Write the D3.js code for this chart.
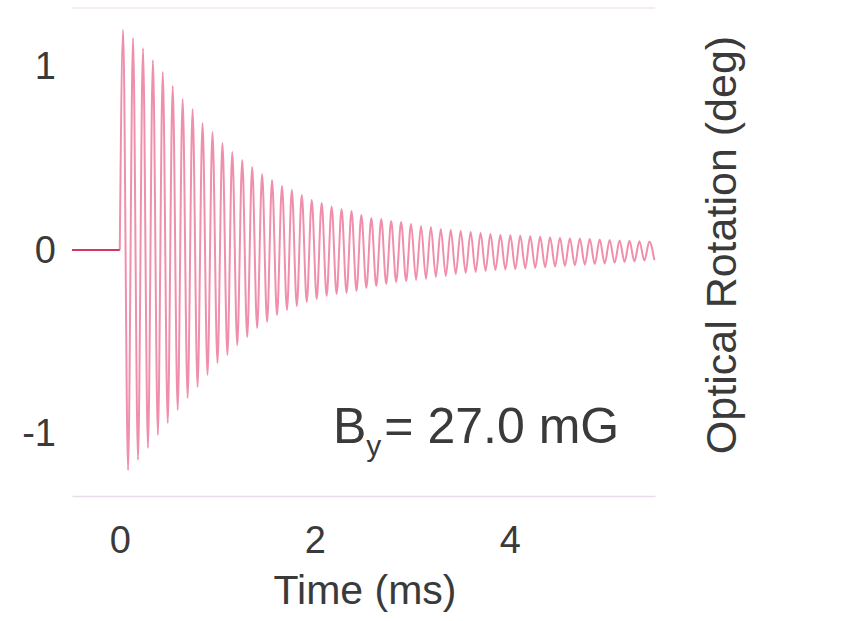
<!DOCTYPE html>
<html>
<head>
<meta charset="utf-8">
<script src="https://cdn.jsdelivr.net/npm/d3@7"></script>
<style>
  html, body { margin: 0; padding: 0; background: #ffffff; }
  svg { display: block; }
  text { font-family: "Liberation Sans", Arial, Helvetica, sans-serif; fill: #3a3a3a; }
</style>
</head>
<body>
<svg id="chart" width="857" height="621"></svg>
<script>
// Axis ticks
const xTicks = [0, 2, 4];
const yTicks = [-1, 0, 1];

// Flat signal before the pulse (ms, deg)
const baselineTime = [-0.49, 0];
const baselineValue = [0, 0];

// Maxima of the free-precession signal (ms, deg)
const peakTime = [0.034, 0.136, 0.238, 0.340, 0.441, 0.543, 0.645, 0.747, 0.849, 0.951,
  1.053, 1.154, 1.256, 1.358, 1.460, 1.562, 1.664, 1.765, 1.867, 1.969,
  2.071, 2.173, 2.275, 2.377, 2.478, 2.580, 2.682, 2.784, 2.886, 2.988,
  3.090, 3.191, 3.293, 3.395, 3.497, 3.599, 3.701, 3.802, 3.904, 4.006,
  4.108, 4.210, 4.312, 4.414, 4.515, 4.617, 4.719, 4.821, 4.923, 5.025,
  5.127, 5.228, 5.330, 5.432];
const peakValue = [1.20, 1.155, 1.10, 1.035, 0.97, 0.894, 0.823, 0.768, 0.692, 0.643,
  0.583, 0.534, 0.49, 0.452, 0.414, 0.381, 0.349, 0.327, 0.30, 0.272,
  0.256, 0.237, 0.223, 0.213, 0.191, 0.174, 0.169, 0.158, 0.153, 0.142,
  0.131, 0.125, 0.114, 0.109, 0.104, 0.098, 0.093, 0.087, 0.082, 0.080,
  0.078, 0.075, 0.072, 0.070, 0.067, 0.064, 0.062, 0.060, 0.057, 0.055,
  0.052, 0.050, 0.048, 0.046];

// Minima of the free-precession signal (ms, deg)
const troughTime = [0.085, 0.187, 0.289, 0.391, 0.492, 0.594, 0.696, 0.798, 0.900, 1.002,
  1.104, 1.205, 1.307, 1.409, 1.511, 1.613, 1.715, 1.816, 1.918, 2.020,
  2.122, 2.224, 2.326, 2.428, 2.529, 2.631, 2.733, 2.835, 2.937, 3.039,
  3.141, 3.242, 3.344, 3.446, 3.548, 3.650, 3.752, 3.853, 3.955, 4.057,
  4.159, 4.261, 4.363, 4.465, 4.566, 4.668, 4.770, 4.872, 4.974, 5.076,
  5.178, 5.279, 5.381, 5.483];
const troughValue = [-1.20, -1.144, -1.079, -1.008, -0.943, -0.872, -0.807, -0.747, -0.681, -0.616,
  -0.572, -0.518, -0.474, -0.425, -0.392, -0.354, -0.327, -0.305, -0.283, -0.267,
  -0.250, -0.240, -0.234, -0.223, -0.207, -0.196, -0.185, -0.174, -0.169, -0.163,
  -0.158, -0.147, -0.142, -0.131, -0.125, -0.120, -0.114, -0.109, -0.106, -0.104,
  -0.100, -0.097, -0.094, -0.090, -0.087, -0.084, -0.080, -0.077, -0.074, -0.070,
  -0.066, -0.062, -0.058, -0.055];

const svg = d3.select("#chart");

const x = d3.scaleLinear().domain([-0.49, 5.49]).range([72, 655]);
const y = d3.scaleLinear().domain([-1.341, 1.319]).range([496, 8]);

// Soft edge for the densely packed trace
const defs = svg.append("defs");
defs.append("filter").attr("id", "soft")
  .attr("x", "-5%").attr("y", "-5%").attr("width", "110%").attr("height", "110%")
  .append("feGaussianBlur").attr("stdDeviation", 0.6);

// Frame lines above and below the plot
svg.append("line")
  .attr("x1", x.range()[0]).attr("x2", x.range()[1])
  .attr("y1", y.range()[1]).attr("y2", y.range()[1])
  .attr("stroke", "#f1e4f1").attr("stroke-width", 1.5);

const xAxis = svg.append("g")
  .attr("transform", `translate(0,${y.range()[0]})`)
  .call(d3.axisBottom(x).tickValues(xTicks).tickSize(0).tickPadding(30).tickFormat(d => String(d)));
xAxis.select(".domain").attr("stroke", "#eadcec").attr("stroke-width", 1.5);
xAxis.selectAll("text").style("font-size", "38px").attr("fill", "#3a3a3a");

const yAxis = svg.append("g")
  .attr("transform", `translate(${x.range()[0]},0)`)
  .call(d3.axisLeft(y).tickValues(yTicks).tickSize(0).tickPadding(16).tickFormat(d => String(d)));
yAxis.select(".domain").remove();
yAxis.selectAll("text").style("font-size", "38px").attr("fill", "#3a3a3a");

// Signal
const line = d3.line()
  .x(d => x(d.t))
  .y(d => y(d.v))
  .curve(d3.curveMonotoneX);

const baseline = baselineTime.map((t, i) => ({ t, v: baselineValue[i] }));
const extrema = peakTime.map((t, i) => ({ t, v: peakValue[i] }))
  .concat(troughTime.map((t, i) => ({ t, v: troughValue[i] })))
  .sort((a, b) => a.t - b.t);
const signal = [baseline[baseline.length - 1]].concat(extrema);

svg.append("path")
  .datum(signal)
  .attr("d", line)
  .attr("fill", "none")
  .attr("stroke", "#f08fab")
  .attr("stroke-width", 2)
  .attr("stroke-linejoin", "round")
  .attr("filter", "url(#soft)");

svg.append("path")
  .datum(baseline)
  .attr("d", line)
  .attr("fill", "none")
  .attr("stroke", "#d4385f")
  .attr("stroke-width", 2);

// Axis titles
svg.append("text")
  .attr("x", 365).attr("y", 604)
  .attr("text-anchor", "middle")
  .style("font-size", "41px")
  .text("Time (ms)");

svg.append("text")
  .attr("transform", "translate(736,245) rotate(-90)")
  .attr("text-anchor", "middle")
  .style("font-size", "43px")
  .text("Optical Rotation (deg)");

// Field annotation
const note = svg.append("text")
  .attr("x", 333).attr("y", 443)
  .style("font-size", "50px");
note.append("tspan").text("B");
note.append("tspan").attr("dy", 13).style("font-size", "30px").text("y");
note.append("tspan").attr("dy", -13).attr("dx", 3).text("= 27.0 mG");
</script>
</body>
</html>
